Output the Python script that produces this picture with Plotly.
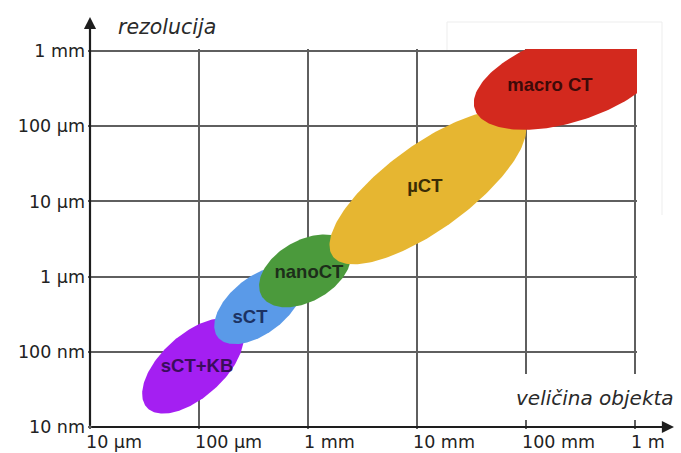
import numpy as np
import plotly.graph_objects as go

# ---- data ----
x_tick_vals = [1e-5, 1e-4, 1e-3, 1e-2, 1e-1, 1.0]
x_tick_text = ["10 µm", "100 µm", "1 mm", "10 mm", "100 mm", "1 m"]
y_tick_vals = [1e-8, 1e-7, 1e-6, 1e-5, 1e-4, 1e-3]
y_tick_text = ["10 nm", "100 nm", "1 µm", "10 µm", "100 µm", "1 mm"]

techniques = ["sCT+KB", "sCT", "nanoCT", "µCT", "macro CT"]
center_size = [8.8e-5, 3.55e-4, 9.4e-4, 1.26e-2, 0.254]       # object size (m)
center_res = [6.5e-8, 4.2e-7, 1.19e-6, 1.55e-5, 4.37e-4]       # resolution (m)
semi_major = [0.57, 0.48, 0.46, 1.08, 0.92]                    # decades (x-scale)
semi_minor = [0.29, 0.26, 0.28, 0.39, 0.40]
tilt_deg = [42, 38, 30, 36, 18]
label_size = [9.6e-5, 2.94e-4, 1.02e-3, 1.18e-2, 0.166]
label_res = [6.3e-8, 2.8e-7, 1.12e-6, 1.55e-5, 3.43e-4]

fill_colors = ["#a41ff2", "#5a9ae8", "#4b9a3c", "#e6b631", "#d3291e"]
text_colors = ["#3a0d5c", "#1c3263", "#1d2e1a", "#3b2c05", "#3d0a08"]

# ---- layout geometry ----
W, H = 681, 453
BX0, BX1, BY0, BY1 = 90, 635, 51, 427      # grid box (pixels)
PAD = 2
ML, MR, MT, MB = BX0 - PAD, W - BX1 - PAD, BY0 - PAD, H - BY1 - PAD
PW, PH = W - ML - MR, H - MT - MB
lx0, lx1 = np.log10(x_tick_vals[0]), np.log10(x_tick_vals[-1])
ly0, ly1 = np.log10(y_tick_vals[0]), np.log10(y_tick_vals[-1])
dpx_x = (BX1 - BX0) / (lx1 - lx0)
dpx_y = (BY1 - BY0) / (ly1 - ly0)
aspect = dpx_x / dpx_y


def px(xp):
    return (xp - ML) / PW


def py(yp):
    return (H - MB - yp) / PH


fig = go.Figure()

t = np.linspace(0, 2 * np.pi, 200)
for i, name in enumerate(techniques):
    th = np.radians(tilt_deg[i])
    u = semi_major[i] * np.cos(t)
    v = semi_minor[i] * np.sin(t)
    dx = u * np.cos(th) - v * np.sin(th)
    dy = (u * np.sin(th) + v * np.cos(th)) * aspect
    xs = 10 ** (np.log10(center_size[i]) + dx)
    ys = 10 ** (np.log10(center_res[i]) + dy)
    fig.add_trace(go.Scatter(
        x=xs, y=ys, mode="lines", fill="toself",
        fillcolor=fill_colors[i], line=dict(width=0, color=fill_colors[i]),
        hoverinfo="skip", showlegend=False))

for i, name in enumerate(techniques):
    fig.add_trace(go.Scatter(
        x=[label_size[i]], y=[label_res[i]], mode="text", text=[name],
        textfont=dict(family="Liberation Sans", size=18.5, color=text_colors[i],
                      weight="bold"),
        textposition="middle center", hoverinfo="skip", showlegend=False,
        cliponaxis=False))

grid_col = "#5f5f5f"
fig.update_xaxes(type="log", range=[lx0 - PAD / dpx_x, lx1 + PAD / dpx_x],
                 tickvals=x_tick_vals, showticklabels=False, showgrid=True,
                 gridcolor=grid_col, gridwidth=1.5, zeroline=False, showline=False,
                 ticks="", fixedrange=True)
fig.update_yaxes(type="log", range=[ly0 - PAD / dpx_y, ly1 + PAD / dpx_y],
                 tickvals=y_tick_vals, ticktext=y_tick_text, showgrid=True,
                 gridcolor=grid_col, gridwidth=1.5, zeroline=False, showline=False,
                 ticks="", ticklabelstandoff=2,
                 tickfont=dict(family="DejaVu Sans", size=17.5, color="#222222"),
                 fixedrange=True)

annotations = []
for v, txt in zip(x_tick_vals, x_tick_text):
    annotations.append(dict(
        x=np.log10(v), xref="x", y=py(442), yref="paper", text=txt, showarrow=False,
        xanchor="left", yanchor="middle", xshift=-6,
        font=dict(family="DejaVu Sans", size=17.5, color="#222222")))

# axis arrows
annotations.append(dict(x=px(BX0), y=py(17), xref="paper", yref="paper",
                        ax=0, ay=BY1 - 17, axref="pixel", ayref="pixel",
                        text="", showarrow=True, arrowhead=2, arrowsize=1.1,
                        arrowwidth=2.2, arrowcolor="#1e1e1e"))
annotations.append(dict(x=px(674), y=py(BY1), xref="paper", yref="paper",
                        ax=-(674 - BX0), ay=0, axref="pixel", ayref="pixel",
                        text="", showarrow=True, arrowhead=2, arrowsize=1.1,
                        arrowwidth=2.2, arrowcolor="#1e1e1e"))

# axis titles
annotations.append(dict(x=px(167), y=py(27), xref="paper", yref="paper",
                        text="<i>rezolucija</i>", showarrow=False,
                        xanchor="center", yanchor="middle",
                        font=dict(family="DejaVu Sans", size=20.5, color="#2a2a2a")))
annotations.append(dict(x=px(595), y=py(398), xref="paper", yref="paper",
                        text="<i>veličina objekta</i>", showarrow=False,
                        xanchor="center", yanchor="middle",
                        font=dict(family="DejaVu Sans", size=20, color="#2a2a2a")))

shapes = [
    # white patch behind the x-axis title
    dict(type="rect", xref="paper", yref="paper",
         x0=px(505), x1=px(W), y0=py(420), y1=py(374),
         fillcolor="white", line=dict(width=0), layer="above"),
    # faint frame at top right
    dict(type="line", xref="paper", yref="paper",
         x0=px(447), x1=px(662), y0=py(22), y1=py(22),
         line=dict(color="#ededed", width=1), layer="below"),
    dict(type="line", xref="paper", yref="paper",
         x0=px(447), x1=px(447), y0=py(22), y1=py(BY0),
         line=dict(color="#ededed", width=1), layer="below"),
    dict(type="line", xref="paper", yref="paper",
         x0=px(662), x1=px(662), y0=py(22), y1=py(215),
         line=dict(color="#ededed", width=1), layer="below"),
]

fig.update_layout(width=W, height=H,
                  margin=dict(l=ML, r=MR, t=MT, b=MB, pad=0),
                  paper_bgcolor="white", plot_bgcolor="white",
                  annotations=annotations, shapes=shapes, showlegend=False)

fig.write_html("out.html", config={"displayModeBar": False},
               post_script="document.body.style.margin='0';document.body.style.overflow='hidden';")
